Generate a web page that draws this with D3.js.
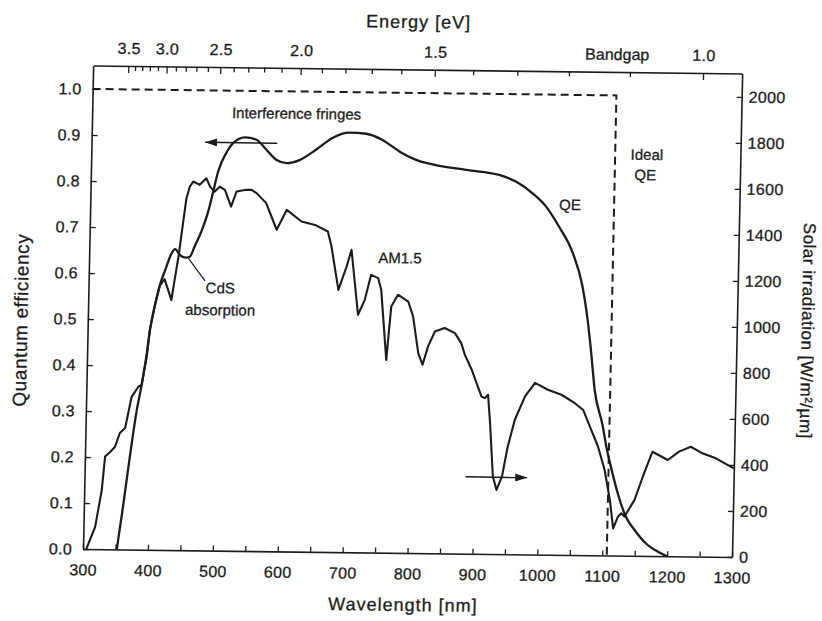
<!DOCTYPE html>
<html><head><meta charset="utf-8">
<script src="https://cdn.jsdelivr.net/npm/d3@7"></script>
<style>
html,body{margin:0;padding:0;background:#fff;}
svg text{font-family:"Liberation Sans",Arial,Helvetica,sans-serif;fill:#1c1c1c;stroke:#1c1c1c;stroke-width:0.3px;}
</style></head><body>
<svg id="chart" width="822" height="621"></svg>
<script>
// ---- data ----
const qeWavelength = [352,360,369,378,385,392,396,403,410,418,427,432,441,449,455,462,472,482,489,496,508,518,536,554,570,585,601,621,646,671,697,723,748,775,806,826,878,929,955,981,1002,1023,1045,1061,1070,1076,1083,1096,1104,1112,1122,1135,1149,1167,1185,1200];
const qeValues = [0,0.09,0.2,0.3,0.358,0.428,0.478,0.532,0.576,0.61,0.645,0.654,0.64,0.636,0.638,0.66,0.693,0.737,0.78,0.824,0.865,0.886,0.899,0.894,0.872,0.851,0.844,0.851,0.874,0.9,0.912,0.91,0.897,0.872,0.852,0.845,0.834,0.824,0.81,0.785,0.757,0.713,0.656,0.584,0.511,0.446,0.36,0.285,0.229,0.185,0.135,0.085,0.056,0.027,0.01,0];

const am15Wavelength = [305,318,327,331,339,346,353,361,370,380,385,392,396,403,410,417,428,432,438,442,448,453,458,468,478,484,491,499,507,517,525,540,548,556,571,588,603,626,647,667,673,685,697,704,716,726,735,746,751,761,767,777,793,801,810,817,825,835,850,866,876,882,893,903,909,914,919,923,929,935,943,951,961,976,991,1011,1032,1053,1066,1079,1090,1101,1110,1116,1123,1128,1133,1148,1160,1174,1198,1215,1233,1251,1272,1295,1300];
const am15Irradiance = [0,97,257,403,424,446,506,528,664,708,716,840,956,1064,1150,1177,1087,1166,1283,1384,1530,1582,1603,1589,1618,1582,1560,1582,1568,1496,1562,1570,1570,1556,1513,1398,1485,1435,1421,1393,1328,1140,1242,1315,1033,1098,1207,1193,1143,838,1070,1122,1093,1028,870,819,899,964,980,958,915,864,800,727,684,677,692,569,337,279,337,468,585,687,746,717,696,660,631,545,473,371,241,118,169,184,170,243,344,453,418,455,477,449,428,393,385];

const qeTicks = [0,0.1,0.2,0.3,0.4,0.5,0.6,0.7,0.8,0.9,1.0];
const irradianceTicks = [0,200,400,600,800,1000,1200,1400,1600,1800,2000];
const wavelengthTicks = [300,350,400,450,500,550,600,650,700,750,800,850,900,950,1000,1050,1100,1150,1200,1250,1300];
const wavelengthLabels = [300,400,500,600,700,800,900,1000,1100,1200,1300];
const energyTicks = [3.5,3.4,3.3,3.2,3.1,3.0,2.9,2.8,2.7,2.6,2.5,2.4,2.3,2.2,2.1,2.0,1.9,1.8,1.7,1.6,1.5,1.4,1.3,1.2,1.1,1.0];
const energyLabels = [3.5,3.0,2.5,2.0,1.5,1.0];
const bandgapWavelength = 1107;
const idealQE = 1.0;
const hc = 1239.84; // eV*nm

// ---- scales ----
const ink = "#1c1c1c";
const x = d3.scaleLinear().domain([300,1300]).range([83,732]);
const yL = d3.scaleLinear().domain([0,1.051]).range([549,65.5]);
const yR = d3.scaleLinear().domain([0,2102]).range([549,65.5]);

const svg = d3.select("#chart");
svg.append("rect").attr("width",822).attr("height",621).attr("fill","#fff");
const defs = svg.append("defs");
defs.append("marker").attr("id","arr").attr("viewBox","0 0 12 8").attr("refX",12).attr("refY",4)
  .attr("markerWidth",12).attr("markerHeight",8).attr("markerUnits","userSpaceOnUse").attr("orient","auto")
  .append("path").attr("d","M0,0L12,4L0,8Z").attr("fill",ink);

// slight skew like the scanned original
const g = svg.append("g").attr("transform","matrix(1,0.0123,-0.021,1,11.53,-1.02)");

function styleAxis(sel, fs){
  sel.selectAll(".domain").attr("stroke",ink).attr("stroke-width",1.6);
  sel.selectAll(".tick line").attr("stroke",ink).attr("stroke-width",1.3);
  sel.selectAll(".tick text").attr("font-size",fs).attr("fill",ink).attr("letter-spacing","0.3px")
     .attr("font-family","'Liberation Sans',Arial,sans-serif");
}

// left axis
const axL = g.append("g").attr("transform",`translate(${x(300)},0)`)
  .call(d3.axisLeft(yL).tickValues(qeTicks).tickFormat(d3.format(".1f")).tickSizeInner(-6).tickSizeOuter(0).tickPadding(11));
styleAxis(axL,16);
// right axis
const axR = g.append("g").attr("transform",`translate(${x(1300)},0)`)
  .call(d3.axisRight(yR).tickValues(irradianceTicks).tickFormat(d3.format("d")).tickSizeInner(-5).tickSizeOuter(0).tickPadding(7));
styleAxis(axR,16);
// bottom axis
const axB = g.append("g").attr("transform",`translate(0,${yL(0)})`)
  .call(d3.axisBottom(x).tickValues(wavelengthTicks).tickFormat(d => wavelengthLabels.includes(d) ? d : "")
  .tickSizeInner(-5).tickSizeOuter(0).tickPadding(15));
styleAxis(axB,16);
// top energy axis
const axT = g.append("g").attr("transform",`translate(0,${yL.range()[1]})`)
  .call(d3.axisTop(x).tickValues(energyTicks.map(e => hc/e))
  .tickFormat(w => { const e = Math.round(hc/w*10)/10; return energyLabels.includes(e) ? e.toFixed(1) : ""; })
  .tickSizeInner(-5).tickSizeOuter(0).tickPadding(12));
styleAxis(axT,16);
axT.selectAll(".tick line").attr("y2", w => { const e = Math.round(hc/w*10)/10; return energyLabels.includes(e) ? 7 : 5; });

// ideal QE dashed line
g.append("path")
  .attr("d", d3.line()([[x(300),yL(idealQE)],[x(bandgapWavelength),yL(idealQE)],[x(bandgapWavelength),yL(0)]]))
  .attr("fill","none").attr("stroke",ink).attr("stroke-width",2).attr("stroke-dasharray","8,5");

// curves
g.append("path").datum(d3.zip(am15Wavelength, am15Irradiance))
  .attr("d", d3.line().x(d=>x(d[0])).y(d=>yR(d[1])))
  .attr("fill","none").attr("stroke",ink).attr("stroke-width",2.1).attr("stroke-linejoin","round");
g.append("path").datum(d3.zip(qeWavelength, qeValues))
  .attr("d", d3.line().x(d=>x(d[0])).y(d=>yL(d[1])).curve(d3.curveMonotoneX))
  .attr("fill","none").attr("stroke",ink).attr("stroke-width",2.3).attr("stroke-linejoin","round");

// annotations
function label(txt, wl, v, fs){
  g.append("text").attr("x",x(wl)).attr("y",yL(v)).attr("dy","0.35em").attr("text-anchor","middle")
   .attr("font-size",fs).text(txt);
}
label("Interference fringes", 615, 0.952, 15);
g.append("line").attr("x1",x(586)).attr("y1",yL(0.887)).attr("x2",x(475)).attr("y2",yL(0.887))
  .attr("stroke",ink).attr("stroke-width",1.5).attr("marker-end","url(#arr)");
label("CdS", 503, 0.571, 15);
label("absorption", 503.5, 0.523, 15);
g.append("line").attr("x1",x(452.8)).attr("y1",yL(0.635)).attr("x2",x(479.3)).attr("y2",yL(0.586))
  .attr("stroke",ink).attr("stroke-width",1.2);
label("AM1.5", 779, 0.641, 15);
label("QE", 1039, 0.761, 15);
label("Ideal", 1156, 0.872, 15);
label("QE", 1154, 0.828, 15);
g.append("line").attr("x1",x(887)).attr("y1",yL(0.167)).attr("x2",x(982)).attr("y2",yL(0.167))
  .attr("stroke",ink).attr("stroke-width",1.5).attr("marker-end","url(#arr)");

// top "Bandgap" label
g.append("text").attr("x",x(bandgapWavelength)).attr("y",yL.range()[1]-12).attr("text-anchor","middle")
  .attr("font-size",16).text("Bandgap");

// axis titles
g.append("text").attr("x",(x(300)+x(1300))/2).attr("y",24).attr("text-anchor","middle")
  .attr("font-size",18).attr("letter-spacing","1px").text("Energy [eV]");
g.append("text").attr("x",404).attr("y",607).attr("text-anchor","middle")
  .attr("font-size",18).attr("letter-spacing","1px").text("Wavelength [nm]");
g.append("text").attr("transform","translate(16,321) rotate(-90)").attr("dy","0.35em").attr("text-anchor","middle")
  .attr("font-size",19).attr("letter-spacing","0.6px").text("Quantum efficiency");
g.append("text").attr("transform","translate(803,322) rotate(90)").attr("dy","0.35em").attr("text-anchor","middle")
  .attr("font-size",17).attr("letter-spacing","0.5px").text("Solar irradiation [W/m²/µm]");
</script>
</body></html>
